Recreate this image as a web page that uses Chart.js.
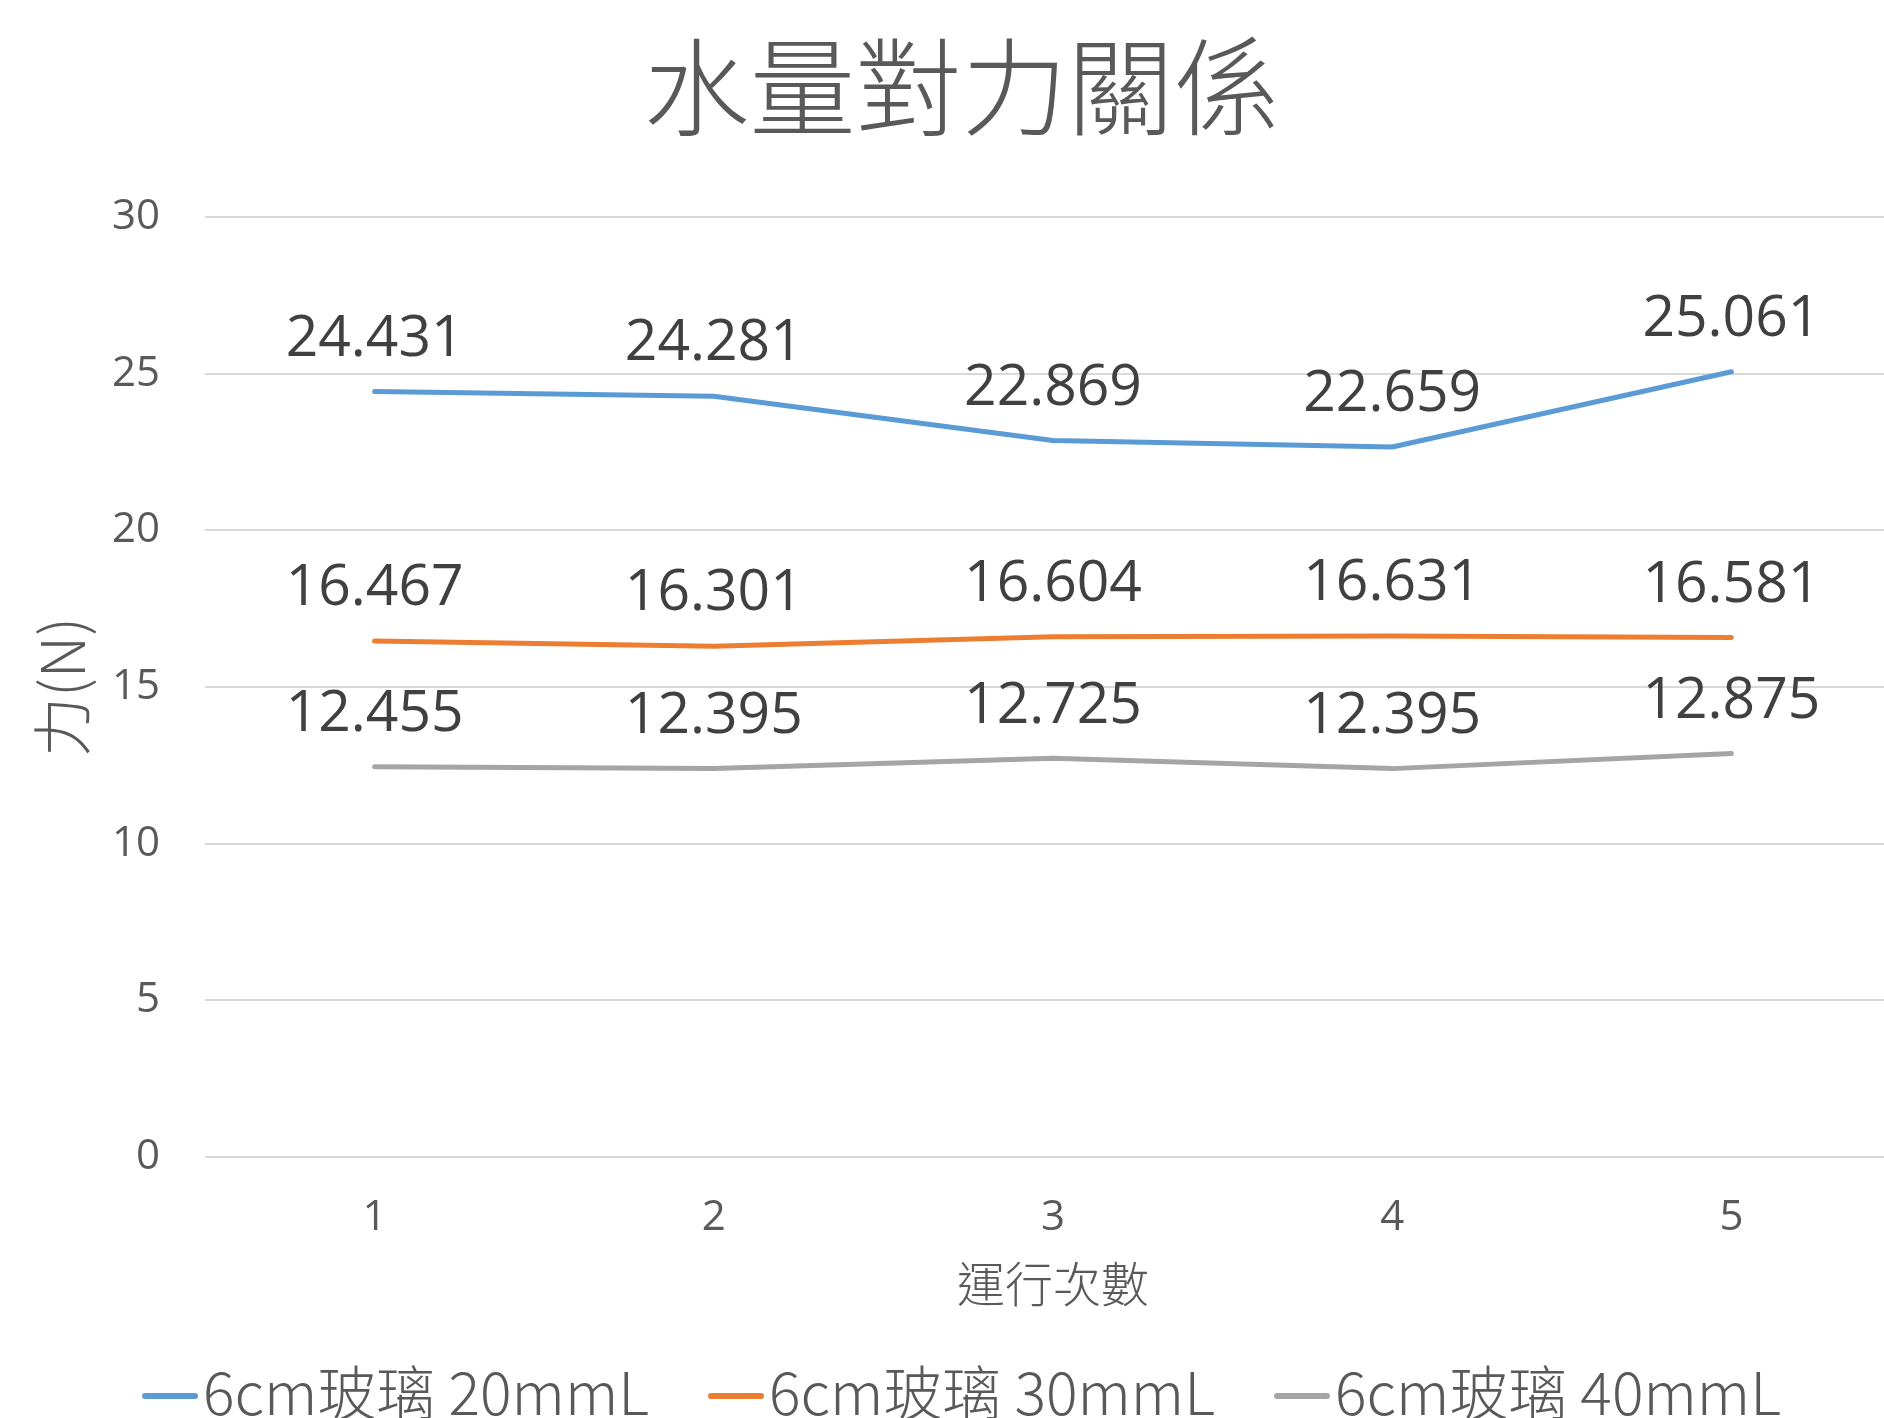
<!DOCTYPE html>
<html>
<head>
<meta charset="utf-8">
<script src="https://cdn.jsdelivr.net/npm/chart.js@4/dist/chart.umd.min.js"></script>
<style>
  html, body { margin: 0; padding: 0; background: #ffffff; overflow: hidden; }
  canvas { display: block; }
</style>
</head>
<body>
<canvas id="chart" width="1901" height="1418"></canvas>
<script>
// Runs on the x axis and measured force (N) for each water volume
const runs = ['1', '2', '3', '4', '5'];
const seriesNames = ['6cm玻璃 20mmL', '6cm玻璃 30mmL', '6cm玻璃 40mmL'];
const force20 = [24.431, 24.281, 22.869, 22.659, 25.061];
const force30 = [16.467, 16.301, 16.604, 16.631, 16.581];
const force40 = [12.455, 12.395, 12.725, 12.395, 12.875];
const yTicks = [0, 5, 10, 15, 20, 25, 30];

const seriesColors = ['#5B9BD5', '#ED7D31', '#A5A5A5'];
const CJK = '"Noto Sans CJK TC", "Noto Sans CJK SC", sans-serif';
const LATIN = '"Open Sans", "Noto Sans", sans-serif';
const PAD_LEFT = 22;

// Value labels above every point
const valueLabels = {
  id: 'valueLabels',
  afterDatasetsDraw(chart) {
    const ctx = chart.ctx;
    ctx.save();
    ctx.font = '57px ' + LATIN;
    ctx.fillStyle = '#404040';
    ctx.textAlign = 'center';
    ctx.textBaseline = 'middle';
    chart.data.datasets.forEach((ds, i) => {
      chart.getDatasetMeta(i).data.forEach((pt, j) => {
        ctx.fillText(ds.data[j].toFixed(3), pt.x, pt.y - 52);
      });
    });
    ctx.restore();
  }
};

// Line-sample legend along the bottom edge
const lineLegend = {
  id: 'lineLegend',
  afterDraw(chart) {
    const ctx = chart.ctx;
    ctx.save();
    ctx.font = '300 59px ' + CJK;
    const lineW = 56, gap = 5, itemGap = 59;
    const widths = chart.data.datasets.map(ds => ctx.measureText(ds.label).width);
    const total = widths.reduce((a, w) => a + lineW + gap + w, 0) + itemGap * (widths.length - 1);
    let x = (PAD_LEFT + chart.width) / 2 - total / 2;
    const y = 1393;
    chart.data.datasets.forEach((ds, i) => {
      ctx.strokeStyle = ds.borderColor;
      ctx.lineWidth = 6;
      ctx.lineCap = 'round';
      ctx.beginPath();
      ctx.moveTo(x + 3, y + 3);
      ctx.lineTo(x + lineW - 3, y + 3);
      ctx.stroke();
      ctx.fillStyle = '#595959';
      ctx.textAlign = 'left';
      ctx.textBaseline = 'middle';
      ctx.fillText(ds.label, x + lineW + gap, y);
      x += lineW + gap + widths[i] + itemGap;
    });
    ctx.restore();
  }
};

const makeSeries = (label, data, color) => ({
  label,
  data,
  borderColor: color,
  backgroundColor: color,
  borderWidth: 5,
  borderCapStyle: 'round',
  borderJoinStyle: 'round',
  pointRadius: 0,
  pointHoverRadius: 0,
  tension: 0,
  fill: false
});

new Chart(document.getElementById('chart'), {
  type: 'line',
  data: {
    labels: runs,
    datasets: [
      makeSeries(seriesNames[0], force20, seriesColors[0]),
      makeSeries(seriesNames[1], force30, seriesColors[1]),
      makeSeries(seriesNames[2], force40, seriesColors[2])
    ]
  },
  options: {
    responsive: false,
    animation: false,
    events: [],
    layout: { padding: { top: 0, left: PAD_LEFT, right: 0, bottom: 91 } },
    plugins: {
      legend: { display: false },
      tooltip: { enabled: false },
      title: {
        display: true,
        text: '水量對力關係',
        color: '#595959',
        font: { family: CJK, size: 106, weight: 300, lineHeight: 1.2 },
        padding: { top: 23, bottom: 66.8 }
      }
    },
    scales: {
      x: {
        offset: true,
        grid: { display: false, drawTicks: false },
        border: { display: false },
        ticks: { color: '#595959', font: { family: LATIN, size: 42, lineHeight: 1.2 }, padding: 36 },
        title: {
          display: true,
          text: '運行次數',
          color: '#595959',
          font: { family: CJK, size: 48, weight: 300, lineHeight: 1.2 },
          padding: { top: 0, bottom: 14 }
        },
        afterFit(scale) { scale.height = 170; }
      },
      y: {
        min: 0,
        max: 30,
        afterBuildTicks(scale) { scale.ticks = yTicks.map(v => ({ value: v })); },
        grid: { color: '#D9D9D9', lineWidth: 2, drawTicks: false },
        border: { display: false },
        ticks: { color: '#595959', font: { family: LATIN, size: 42, lineHeight: 1.2 }, padding: 45 },
        title: {
          display: true,
          text: '力(N)',
          color: '#595959',
          font: { family: CJK, size: 60, weight: 300, lineHeight: 1.2 },
          padding: { top: 4, bottom: 0 }
        },
        afterFit(scale) { scale.width = 205 - PAD_LEFT; }
      }
    }
  },
  plugins: [valueLabels, lineLegend]
});
</script>
</body>
</html>
